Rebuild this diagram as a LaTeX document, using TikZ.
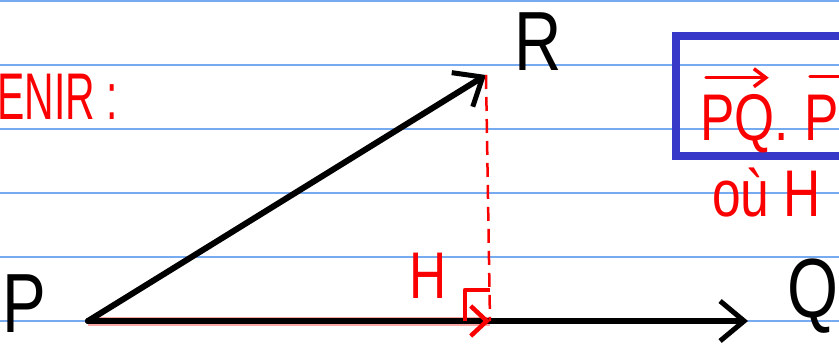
\documentclass[tikz,border=0pt]{standalone}
\usepackage{fontspec}
\setmainfont{Liberation Sans}
\newfontfamily\hand[FakeStretch=0.78]{Liberation Sans}
\newfontfamily\handnarrow[FakeStretch=0.62]{Liberation Sans}
\usetikzlibrary{arrows.meta,calc}
\definecolor{rulebl}{RGB}{120,170,240}
\definecolor{boxbl}{RGB}{55,55,200}
\definecolor{penred}{RGB}{250,0,0}

\begin{document}
\begin{tikzpicture}[
  x=1pt, y=-1pt,
  rule/.style={rulebl, line width=1.4pt},
  vec/.style={-{Straight Barb[length=24pt,width=40pt,line width=5pt]}, line width=6pt, line cap=round},
  redvec/.style={-{Straight Barb[length=16pt,width=30pt,line width=4.5pt]}, penred, line width=4pt},
  overvec/.style={-{Straight Barb[length=12pt,width=18pt,line width=3.5pt]}, penred, line width=3.5pt, line cap=round},
  fringe/.style={penred, opacity=0.35, line width=9pt},
  proj/.style={penred, line width=2.5pt, dash pattern=on 14pt off 8pt},
  rightangle/.style={penred, line width=4.5pt, line join=round},
  blacklbl/.style={font=\hand\fontsize{84}{90}\selectfont},
  redlbl/.style={text=penred, font=\hand\fontsize{66}{72}\selectfont, inner sep=0pt},
  boxline/.style={boxbl, line width=8pt}
]
\useasboundingbox (0,0) rectangle (839,353);
\clip (0,0) rectangle (839,353);
% ruled paper
\foreach \y in {1,65,129,193,257,321}
  \draw[rule] (0,\y) -- (839,\y);

\coordinate (P) at (88,321);
\coordinate (Q) at (748,321);
\coordinate (R) at (486,75);
\coordinate (H) at (490,321);

% vectors
\draw[fringe] (P) -- (H);
\draw[vec] (P) -- (R);
\draw[vec] (P) -- (Q);
\draw[proj] (R) -- (H);
\draw[rightangle] ($(H)+(-25,0)$) -- ++(0,-31) -- ++(25,0);
\draw[redvec] ($(H)+(-4,0)$) -- (H);

% labels
\node[blacklbl] (lblP) at (24,304) {P};
\node[blacklbl, anchor=west] (lblQ) at (784,296) {Q};
\node[blacklbl] (lblR) at (538,42) {R};
\node[redlbl] (lblH) at (428,276) {H};
\node[redlbl, font=\handnarrow\fontsize{66}{72}\selectfont, anchor=base east] (retenir) at (118,120) {RETENIR :};

% boxed formula
\draw[boxline] (676,36) rectangle (900,156);
\node[redlbl, anchor=base west] (vPQ) at (700,140) {PQ};
\node[redlbl, anchor=base west] (dotp) at (774,140) {.};
\node[redlbl, anchor=base west] (vPR) at (804,140) {PR};
\draw[overvec] ($(vPQ.north west)+(6,-16)$) -- ($(vPQ.north east)+(-6,-16)$);
\draw[overvec] ($(vPR.north west)+(6,-18)$) -- ($(vPR.north east)+(-6,-18)$);
\node[redlbl, anchor=base west] (ouH) at (712,216) {où H};
\end{tikzpicture}
\end{document}
